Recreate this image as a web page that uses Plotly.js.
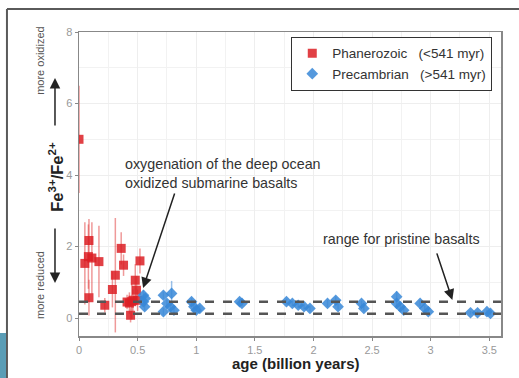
<!DOCTYPE html>
<html><head><meta charset="utf-8">
<script src="https://cdn.plot.ly/plotly-3.0.1.min.js"></script>
<style>html,body{margin:0;padding:0;background:#fff}#chart{width:519px;height:378px}</style>
</head><body><div id="chart"></div>
<script>
// Phanerozoic (<541 myr)
const phanAge = [0, 0.05, 0.08, 0.085, 0.11, 0.17, 0.085, 0.22, 0.285, 0.31, 0.36, 0.38, 0.41, 0.43, 0.45, 0.46, 0.44, 0.48, 0.49, 0.52, 0.50];
const phanRatio = [5.0, 1.53, 1.72, 2.17, 1.68, 1.58, 0.57, 0.36, 0.80, 1.2, 1.95, 1.48, 0.45, 0.42, 0.46, 0.50, 0.08, 1.06, 0.78, 1.6, 0.50];
const phanErr = [1.5, 1.15, 0.9, 0.6, 1.0, 1.0, 0.5, 0.2, 0.5, 1.6, 0.45, 0.3, 0.2, 0.3, 0.5, 0.3, 0.2, 0.45, 0.4, 0.35, 0.3];
// Precambrian (>541 myr)
const preAge = [0.55, 0.55, 0.56, 0.565, 0.72, 0.75, 0.72, 0.79, 0.81, 0.78, 0.96, 0.98, 1.0, 1.03, 1.37, 1.39, 1.77, 1.82, 1.87, 1.92, 1.97, 2.12, 2.19, 2.21, 2.41, 2.43, 2.71, 2.71, 2.74, 2.77, 2.91, 2.95, 2.98, 3.34, 3.40, 3.48, 3.51];
const preRatio = [0.64, 0.46, 0.32, 0.55, 0.64, 0.41, 0.18, 0.69, 0.22, 0.32, 0.46, 0.32, 0.22, 0.27, 0.46, 0.41, 0.46, 0.41, 0.36, 0.32, 0.27, 0.41, 0.50, 0.32, 0.41, 0.27, 0.60, 0.41, 0.32, 0.22, 0.41, 0.27, 0.18, 0.15, 0.15, 0.18, 0.13];
const preErr = [0.15, 0.1, 0.1, 0.1, 0.1, 0.1, 0.1, 0.35, 0.1, 0.1, 0.1, 0.1, 0.1, 0.1, 0.08, 0.08, 0.08, 0.08, 0.08, 0.08, 0.08, 0.1, 0.1, 0.08, 0.08, 0.08, 0.15, 0.1, 0.08, 0.08, 0.08, 0.08, 0.08, 0.05, 0.05, 0.05, 0.05];
// pristine basalt range
const pristineRange = [0.12, 0.46];
const xRange = [0, 3.6];
const yRange = [-0.5, 8];
const xTicks = [0, 0.5, 1, 1.5, 2, 2.5, 3, 3.5];
const xTickLabels = ['0', '0.5', '1', '1.5', '2', '2.5', '3', '3.5'];
const yTicks = [0, 2, 4, 6, 8];

const FONT = 'Liberation Sans, Arial, sans-serif';
const traces = [
  {
    name: 'Phanerozoic\u00a0\u00a0\u00a0(<541 myr)', x: phanAge, y: phanRatio, type:'scatter', mode:'markers',
    marker:{symbol:'square', size:9, color:'rgba(220,30,36,0.85)'},
    error_y:{type:'data', array:phanErr, visible:true, color:'rgba(225,70,70,0.55)', thickness:1.5, width:0}
  },
  {
    name: 'Precambrian\u00a0\u00a0\u00a0(>541 myr)', x: preAge, y: preRatio, type:'scatter', mode:'markers',
    marker:{symbol:'diamond', size:9, color:'rgba(55,135,215,0.85)'},
    error_y:{type:'data', array:preErr, visible:true, color:'rgba(70,140,215,0.55)', thickness:1.5, width:0}
  }
];
const shapes = [];
// outer figure frame (top and left edges) and teal corner block
shapes.push({type:'line', xref:'paper', yref:'paper', x0:-0.1707, x1:1.05, y0:1.0757, y1:1.0757, line:{color:'#5a5a5a', width:2}});
shapes.push({type:'line', xref:'paper', yref:'paper', x0:-0.1707, x1:-0.1707, y0:1.0757, y1:-0.14, line:{color:'#5a5a5a', width:2}});
shapes.push({type:'rect', xref:'paper', yref:'paper', x0:-0.19, x1:-0.1730, y0:-0.14, y1:0.0099, line:{width:0}, fillcolor:'#5a9db6'});
pristineRange.forEach(v => shapes.push({type:'line', xref:'paper', x0:0, x1:1, yref:'y', y0:v, y1:v,
  line:{color:'#555', width:2.5, dash:'dash'}}));

const annotations = [
  {xref:'x', yref:'y', x:0.376, y:4.03, xanchor:'left', yanchor:'middle', align:'left', showarrow:false,
   text:'oxygenation of the deep ocean<br>oxidized submarine basalts', font:{family:FONT, size:14.3, color:'#333'}},
  {xref:'x', yref:'y', x:0.547, y:0.84, ax:32, ay:-96, showarrow:true, arrowhead:2, arrowsize:1.4, arrowwidth:1.5, arrowcolor:'#222', text:'', standoff:0},
  {xref:'paper', yref:'y', x:0.956, y:2.2, xanchor:'right', yanchor:'middle', showarrow:false,
   text:'range for pristine basalts', font:{family:FONT, size:14.3, color:'#333'}},
  {xref:'x', yref:'y', x:3.185, y:0.51, ax:-16, ay:-48, showarrow:true, arrowhead:2, arrowsize:1.4, arrowwidth:1.5, arrowcolor:'#222', text:'', standoff:0},
  {xref:'paper', yref:'paper', x:-0.055, y:0.523, textangle:-90, showarrow:false, xanchor:'center', yanchor:'middle',
   text:'<b>Fe<sup>3+</sup>/Fe<sup>2+</sup></b>', font:{family:FONT, size:16.5, color:'#222'}},
  {xref:'paper', yref:'paper', x:-0.0925, y:0.905, textangle:-90, showarrow:false, xanchor:'center', yanchor:'middle',
   text:'more oxidized', font:{family:FONT, size:11, color:'#555'}},
  {xref:'paper', yref:'paper', x:-0.0925, y:0.168, textangle:-90, showarrow:false, xanchor:'center', yanchor:'middle',
   text:'more reduced', font:{family:FONT, size:11, color:'#555'}},
  {xref:'paper', yref:'paper', x:-0.0569, y:0.8487, ax:0, ay:49, showarrow:true, arrowhead:2, arrowsize:1.4, arrowwidth:1.5, arrowcolor:'#222', text:'', standoff:0},
  {xref:'paper', yref:'paper', x:-0.0569, y:0.174, ax:0, ay:-56, showarrow:true, arrowhead:2, arrowsize:1.4, arrowwidth:1.5, arrowcolor:'#222', text:'', standoff:0},
  {xref:'paper', yref:'paper', x:0.515, y:-0.09, xanchor:'center', yanchor:'middle', showarrow:false,
   text:'<b>age (billion years)</b>', font:{family:FONT, size:15, color:'#222'}}
];

const layout = {
  width:519, height:378, margin:{l:79, r:18.3, t:32, b:42},
  paper_bgcolor:'#fff', plot_bgcolor:'#fff',
  font:{family:FONT, color:'#333'},
  showlegend:true,
  legend:{x:0.503, y:0.984, xanchor:'left', yanchor:'top', bgcolor:'#fff', bordercolor:'#333', borderwidth:1,
    font:{family:FONT, size:13.5, color:'#333'}, itemwidth:30, tracegroupgap:0},
  xaxis:{range:xRange, tickvals:xTicks, ticktext:xTickLabels, showgrid:true, gridcolor:'#eeeeee', gridwidth:1,
    minor:{dtick:0.25, showgrid:true, gridcolor:'#f2f2f2'},
    zeroline:false, showline:true, linecolor:'#888', linewidth:1.5, mirror:true, ticks:'outside', ticklen:3, tickcolor:'#888',
    tickfont:{family:FONT, size:11, color:'#999'}},
  yaxis:{range:yRange, tickvals:yTicks, showgrid:true, gridcolor:'#eeeeee', gridwidth:1,
    minor:{dtick:1, showgrid:true, gridcolor:'#f2f2f2'},
    zeroline:false, showline:true, linecolor:'#888', linewidth:1.5, mirror:true, ticks:'outside', ticklen:3, tickcolor:'#888',
    tickfont:{family:FONT, size:11, color:'#999'}},
  shapes: shapes, annotations: annotations
};
Plotly.newPlot('chart', traces, layout, {displayModeBar:false, staticPlot:true});
</script></body></html>
